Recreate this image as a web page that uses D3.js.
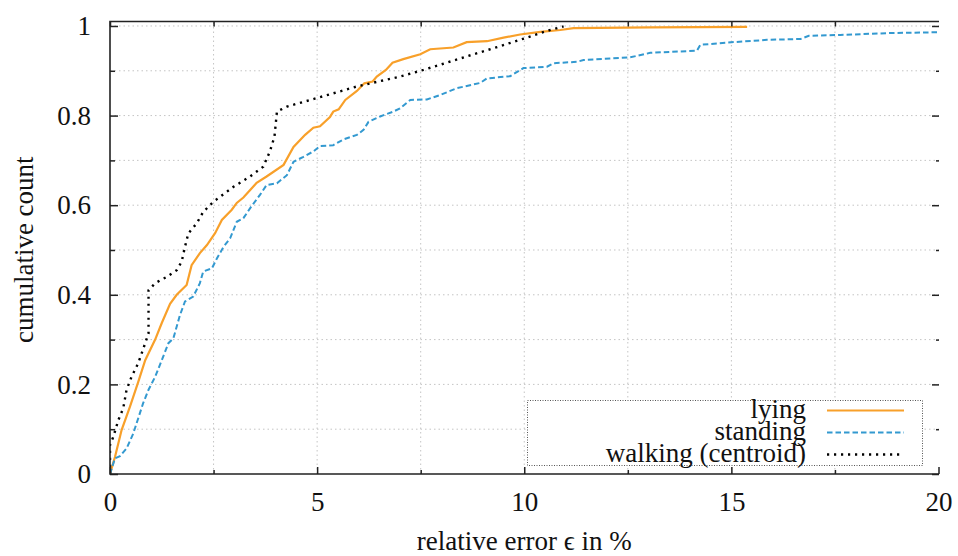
<!DOCTYPE html>
<html>
<head>
<meta charset="utf-8">
<script src="https://cdn.jsdelivr.net/npm/d3@7"></script>
<style>
	text { font-family: "Liberation Serif", serif !important; }
</style>
</head>
<body style="margin:0; background:#fff">
<script>
;(function(){

	// cumulative count curves, [relative error in %, cumulative count]
	var lying = [[0,0],[0.12,0.038],[0.28,0.098],[0.48,0.15],[0.68,0.205],[0.85,0.254],[1.09,0.30],[1.25,0.337],
		[1.45,0.38],[1.61,0.40],[1.85,0.422],[1.97,0.466],[2.17,0.493],[2.34,0.511],[2.54,0.538],[2.70,0.567],
		[2.94,0.590],[3.06,0.605],[3.22,0.617],[3.54,0.650],[3.78,0.664],[4.19,0.690],[4.43,0.73],[4.71,0.757],
		[4.91,0.773],[5.07,0.776],[5.31,0.797],[5.39,0.809],[5.52,0.814],[5.68,0.835],[5.96,0.855],[6.14,0.872],
		[6.34,0.876],[6.44,0.887],[6.66,0.902],[6.82,0.918],[7.08,0.926],[7.49,0.937],[7.73,0.948],[8.29,0.952],
		[8.61,0.964],[9.10,0.966],[9.50,0.974],[9.90,0.981],[10.39,0.987],[10.87,0.991],[11.19,0.995],
		[13.04,0.997],[15.38,0.998]];

	var standing = [[0,0],[0.12,0.035],[0.24,0.04],[0.40,0.057],[0.56,0.09],[0.80,0.158],[0.93,0.188],[1.09,0.217],
		[1.25,0.254],[1.41,0.292],[1.53,0.303],[1.69,0.355],[1.81,0.385],[2.01,0.396],[2.17,0.426],[2.25,0.452],
		[2.46,0.459],[2.58,0.481],[2.74,0.507],[2.90,0.526],[3.06,0.563],[3.22,0.571],[3.38,0.593],[3.62,0.623],
		[3.78,0.645],[4.03,0.649],[4.27,0.667],[4.43,0.697],[4.67,0.708],[4.91,0.72],[5.07,0.732],[5.39,0.734],
		[5.64,0.747],[5.96,0.757],[6.12,0.768],[6.24,0.786],[6.52,0.798],[6.84,0.809],[7.0,0.816],[7.25,0.835],
		[7.65,0.836],[7.97,0.846],[8.37,0.861],[8.94,0.873],[9.10,0.883],[9.66,0.888],[9.98,0.906],[10.55,0.909],
		[10.71,0.917],[11.27,0.92],[11.43,0.924],[12.56,0.93],[13.04,0.94],[14.17,0.945],[14.25,0.958],
		[15.06,0.964],[15.86,0.969],[16.67,0.971],[16.87,0.978],[17.63,0.98],[18.76,0.984],[20.0,0.986]];

	var walking = [[0,0],[0,0.065],[0.08,0.083],[0.20,0.12],[0.32,0.147],[0.40,0.188],[0.52,0.217],[0.68,0.247],
		[0.85,0.292],[0.93,0.314],[0.93,0.41],[1.09,0.426],[1.37,0.44],[1.61,0.455],[1.73,0.474],[1.81,0.507],
		[1.89,0.537],[2.09,0.559],[2.25,0.585],[2.50,0.608],[2.98,0.641],[3.38,0.664],[3.70,0.686],[3.86,0.72],
		[3.97,0.753],[4.03,0.809],[4.27,0.82],[4.99,0.839],[5.96,0.865],[7.0,0.887],[7.57,0.902],[8.61,0.932],
		[9.42,0.955],[10.06,0.974],[10.55,0.989],[10.95,0.999]];

	var seriesNames = ["lying", "standing", "walking (centroid)"];

	var xMajor = [0, 5, 10, 15, 20];
	var xMinor = [2.5, 7.5, 12.5, 17.5];
	var yMajor = [0, 0.2, 0.4, 0.6, 0.8, 1];
	var yMinor = [0.1, 0.3, 0.5, 0.7, 0.9];

	var xTitle = "relative error \u03f5 in %";
	var yTitle = "cumulative count";

	var w = 958;
	var h = 556;
	var left = 110, right = 939, top = 21.5, bottom = 474;
	var fam = "Liberation Serif";
	var fontSize = 27;

	var svg = d3.select("body")
		.append("svg")
		.attr("width", w)
		.attr("height", h)
		.attr("font-family", fam);

	var xscale = d3.scaleLinear()
		.domain([0, 20])
		.range([left, 938.5]);

	var yscale = d3.scaleLinear()
		.domain([0, 1.01])
		.range([bottom, top]);

	// dotted grid
	var grid = svg.append("g").attr("class", "grid")
		.attr("stroke", "#c4c4c4")
		.attr("stroke-width", 1)
		.attr("stroke-dasharray", "1.5,3");

	grid.selectAll("line.gx")
		.data(xMajor.concat(xMinor).filter(function(d){ return d > 0 && d < 20; }))
		.enter().append("line")
		.attr("class", "gx")
		.attr("x1", function(d){ return xscale(d); })
		.attr("x2", function(d){ return xscale(d); })
		.attr("y1", bottom)
		.attr("y2", top);

	grid.selectAll("line.gy")
		.data(yMajor.concat(yMinor).filter(function(d){ return d > 0; }))
		.enter().append("line")
		.attr("class", "gy")
		.attr("x1", left)
		.attr("x2", right)
		.attr("y1", function(d){ return yscale(d); })
		.attr("y2", function(d){ return yscale(d); });

	// curves
	var line = d3.line()
		.x(function(d){ return xscale(d[0]); })
		.y(function(d){ return yscale(d[1]); });

	svg.append("clipPath").attr("id", "plotclip")
		.append("rect")
		.attr("x", left).attr("y", top)
		.attr("width", right - left).attr("height", bottom - top);

	var styles = [
		{ color: "#f8a02a", width: 2.2, dash: null },
		{ color: "#3399d0", width: 2, dash: "5.5,3" },
		{ color: "#000", width: 2.4, dash: "2.2,4.8" }
	];
	var curves = [lying, standing, walking];

	var plot = svg.append("g").attr("clip-path", "url(#plotclip)");
	curves.forEach(function(c, i){
		plot.append("path")
			.datum(c)
			.attr("fill", "none")
			.attr("stroke", styles[i].color)
			.attr("stroke-width", styles[i].width)
			.attr("stroke-dasharray", styles[i].dash)
			.attr("d", line);
	});

	// ticks, all pointing inward
	function tickAxis(axis, vals, size, pad, labels){
		return axis.tickValues(vals)
			.tickSizeInner(-size)
			.tickSizeOuter(0)
			.tickPadding(pad)
			.tickFormat(labels ? d3.format("") : "");
	}

	var axes = [
		[d3.axisBottom(xscale), xMajor, 7, 18, true, "translate(0," + bottom + ")"],
		[d3.axisBottom(xscale), xMinor, 4, 0, false, "translate(0," + bottom + ")"],
		[d3.axisTop(xscale), xMajor.concat(xMinor).filter(function(d){ return d < 20; }), 5, 0, false, "translate(0," + top + ")"],
		[d3.axisLeft(yscale), yMajor, 8, 19, true, "translate(" + left + ",0)"],
		[d3.axisLeft(yscale), yMinor, 5, 0, false, "translate(" + left + ",0)"],
		[d3.axisRight(yscale), yMajor, 7, 0, false, "translate(" + right + ",0)"],
		[d3.axisRight(yscale), yMinor, 3, 0, false, "translate(" + right + ",0)"]
	];
	axes.forEach(function(a){
		svg.append("g")
			.attr("transform", a[5])
			.call(tickAxis(a[0], a[1], a[2], a[3], a[4]))
			.attr("font-family", fam)
			.attr("font-size", fontSize);
	});

	svg.selectAll(".domain").remove();
	svg.selectAll(".tick line").attr("stroke", "#222").attr("stroke-width", 1.5);

	// frame: left, top and bottom only
	svg.append("path")
		.attr("fill", "none")
		.attr("stroke", "#222")
		.attr("stroke-width", 1.6)
		.attr("d", "M" + right + "," + top + "H" + left + "V" + bottom + "H" + right);

	// axis titles
	svg.append("text")
		.attr("x", (left + 938.5) / 2)
		.attr("y", 550)
		.attr("text-anchor", "middle")
		.text(xTitle);

	svg.append("text")
		.attr("transform", "translate(33," + ((top + bottom) / 2 + 2) + ") rotate(-90)")
		.attr("text-anchor", "middle")
		.text(yTitle);

	// legend
	var legend = svg.append("g").attr("class", "legend");
	legend.append("rect")
		.attr("x", 527.5).attr("y", 400.5)
		.attr("width", 395).attr("height", 65)
		.attr("fill", "#fff")
		.attr("stroke", "#555")
		.attr("stroke-width", 1)
		.attr("stroke-dasharray", "1,1.5");

	var rows = legend.selectAll("g.row")
		.data(seriesNames)
		.enter().append("g")
		.attr("class", "row")
		.attr("transform", function(d, i){ return "translate(0," + (410.5 + i * 22) + ")"; });

	rows.append("text")
		.attr("x", 806)
		.attr("y", 7)
		.attr("text-anchor", "end")
		.text(function(d){ return d; });

	rows.append("line")
		.attr("x1", 827).attr("x2", 904)
		.attr("y1", 0).attr("y2", 0)
		.attr("stroke", function(d, i){ return styles[i].color; })
		.attr("stroke-width", function(d, i){ return styles[i].width; })
		.attr("stroke-dasharray", function(d, i){ return styles[i].dash; });

	// every text: same face, size and colour
	svg.selectAll("text")
		.attr("fill", "#111")
		.attr("font-size", fontSize)
		.attr("font-family", fam)
		.style("font-family", "'Liberation Serif', serif");

})();
</script>
</body>
</html>
